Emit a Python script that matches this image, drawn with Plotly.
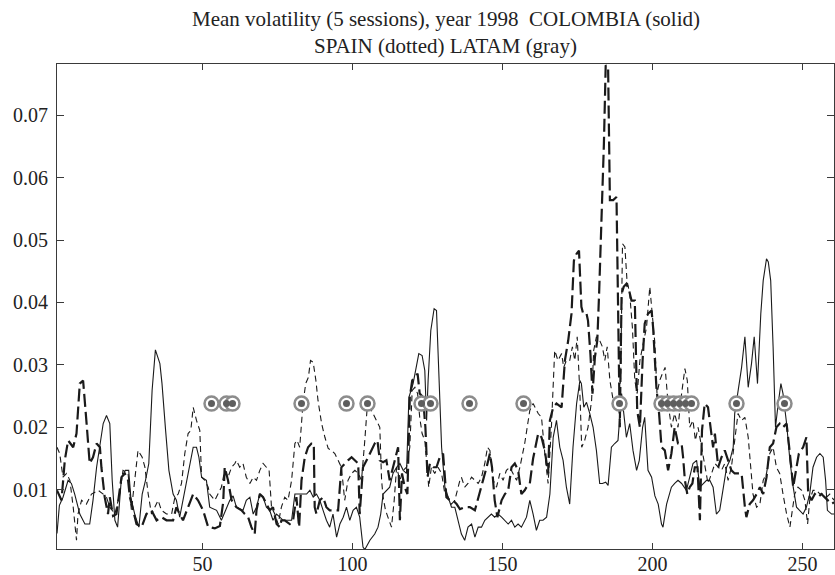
import plotly.graph_objects as go

# ---------------- data ----------------
colombia_x = [1.5, 2.3, 3.5, 5.2, 6.3, 7.4, 9.1, 10.8, 12.4, 13.5, 14.7, 15.8, 16.9, 18.0, 19.1, 19.9, 20.8, 21.7,
              23.0, 24.3, 25.4, 26.1, 27.4, 28.8, 29.9, 31.0, 32.1, 33.2, 34.3, 35.8, 36.5, 37.7, 38.8, 40.2, 41.3,
              42.4, 43.5, 44.7, 45.8, 46.9, 48.0, 48.8, 49.7, 51.3, 52.4, 54.7, 56.3, 58.0, 59.1, 60.2, 61.3, 63.5,
              64.6, 65.8, 66.9, 68.0, 69.1, 70.2, 71.3, 72.4, 73.5, 74.7, 75.8, 76.9, 78.5, 79.7, 80.8, 81.9, 83.0,
              84.7, 85.8, 86.9, 88.0, 89.1, 90.2, 91.3, 92.4, 93.5, 94.7, 95.8, 96.9, 98.0, 99.1, 100.2, 101.3,
              102.4, 103.5, 104.1, 105.8, 107.4, 108.5, 109.4, 110.2, 111.3, 112.4, 113.5, 114.7, 115.8, 116.9,
              118.0, 118.8, 120.2, 121.3, 122.1, 123.2, 124.1, 124.7, 125.2, 126.1, 127.2, 128.0, 128.8, 129.7,
              130.8, 131.9, 133.0, 134.1, 135.2, 136.3, 137.4, 138.5, 139.7, 140.8, 141.9, 143.0, 144.1, 145.2,
              146.3, 147.4, 148.5, 149.7, 150.8, 151.9, 153.0, 154.1, 155.2, 156.3, 158.0, 159.1, 160.2, 161.3,
              162.4, 163.5, 164.7, 165.8, 166.9, 168.0, 169.1, 170.2, 171.3, 172.4, 173.5, 174.7, 175.8, 176.3,
              177.1, 178.0, 179.1, 180.2, 181.3, 182.4, 183.3, 184.4, 185.2, 186.3, 187.4, 188.5, 189.7, 190.4,
              191.3, 192.4, 193.5, 194.7, 195.6, 196.7, 197.4, 198.5, 199.7, 200.8, 201.9, 203.0, 203.5, 204.7,
              206.3, 207.4, 208.5, 209.7, 211.3, 212.4, 213.5, 214.7, 215.8, 218.0, 219.1, 220.2, 221.3, 222.4,
              223.5, 224.7, 225.8, 226.9, 227.4, 228.5, 229.7, 230.8, 231.9, 233.0, 233.9, 235.0, 236.1, 236.9,
              238.0, 238.6, 239.4, 240.2, 241.0, 241.9, 242.8, 243.5, 244.7, 245.8, 246.9, 248.0, 249.1, 250.2,
              251.3, 252.4, 253.5, 254.7, 255.8, 256.9, 257.7, 258.3, 259.7, 260.5]
colombia_y = [0.0030, 0.0075, 0.0088, 0.0115, 0.0110, 0.0093, 0.0061, 0.0045, 0.0045, 0.0083, 0.0136, 0.0168,
              0.0206, 0.0219, 0.0206, 0.0115, 0.0051, 0.0040, 0.0120, 0.0131, 0.0131, 0.0088, 0.0061, 0.0040,
              0.0093, 0.0115, 0.0142, 0.0259, 0.0324, 0.0302, 0.0270, 0.0195, 0.0131, 0.0093, 0.0083, 0.0056,
              0.0083, 0.0115, 0.0136, 0.0168, 0.0168, 0.0152, 0.0120, 0.0115, 0.0072, 0.0067, 0.0051, 0.0072,
              0.0083, 0.0090, 0.0072, 0.0067, 0.0083, 0.0088, 0.0061, 0.0072, 0.0093, 0.0088, 0.0072, 0.0067,
              0.0051, 0.0061, 0.0056, 0.0051, 0.0051, 0.0051, 0.0093, 0.0093, 0.0093, 0.0093, 0.0099, 0.0088,
              0.0093, 0.0083, 0.0067, 0.0051, 0.0040, 0.0061, 0.0024, 0.0045, 0.0056, 0.0072, 0.0051, 0.0067,
              0.0072, 0.0056, 0.0008, 0.0004, 0.0019, 0.0029, 0.0040, 0.0061, 0.0093, 0.0099, 0.0104, 0.0126,
              0.0136, 0.0142, 0.0131, 0.0126, 0.0248, 0.0270, 0.0296, 0.0318, 0.0315, 0.0291, 0.0211, 0.0275,
              0.0355, 0.0390, 0.0387, 0.0275, 0.0168, 0.0104, 0.0088, 0.0072, 0.0072, 0.0051, 0.0029, 0.0019,
              0.0040, 0.0045, 0.0024, 0.0040, 0.0040, 0.0051, 0.0056, 0.0061, 0.0056, 0.0061, 0.0056, 0.0051,
              0.0045, 0.0051, 0.0040, 0.0045, 0.0040, 0.0056, 0.0083, 0.0061, 0.0035, 0.0051, 0.0051, 0.0056,
              0.0093, 0.0184, 0.0211, 0.0168, 0.0147, 0.0104, 0.0077, 0.0168, 0.0238, 0.0275, 0.0270, 0.0232,
              0.0240, 0.0222, 0.0200, 0.0163, 0.0110, 0.0110, 0.0112, 0.0107, 0.0168, 0.0174, 0.0179, 0.0254,
              0.0227, 0.0184, 0.0206, 0.0163, 0.0131, 0.0147, 0.0200, 0.0216, 0.0131, 0.0120, 0.0090, 0.0077,
              0.0045, 0.0040, 0.0077, 0.0104, 0.0110, 0.0115, 0.0110, 0.0099, 0.0120, 0.0142, 0.0147, 0.0104,
              0.0115, 0.0115, 0.0104, 0.0061, 0.0067, 0.0104, 0.0136, 0.0147, 0.0168, 0.0222, 0.0254, 0.0296,
              0.0345, 0.0264, 0.0302, 0.0345, 0.0270, 0.0382, 0.0435, 0.0470, 0.0465, 0.0435, 0.0329, 0.0200,
              0.0238, 0.0270, 0.0254, 0.0206, 0.0147, 0.0104, 0.0072, 0.0067, 0.0061, 0.0072, 0.0093, 0.0136,
              0.0152, 0.0158, 0.0152, 0.0115, 0.0067, 0.0061, 0.0061]

spain_x = [1.5, 2.4, 3.5, 4.7, 5.8, 6.9, 8.0, 8.5, 9.7, 11.3, 13.0, 15.2, 16.9, 18.0, 19.1, 20.8, 22.4, 23.5,
           25.2, 26.3, 27.4, 28.5, 29.9, 30.8, 31.9, 33.0, 34.1, 35.2, 36.3, 38.0, 39.7, 40.8, 41.9, 43.0, 44.1,
           45.2, 46.1, 46.9, 48.0, 49.1, 49.7, 50.8, 51.9, 52.4, 54.1, 55.2, 56.3, 57.4, 58.5, 59.7, 60.8, 61.3,
           62.4, 63.5, 64.6, 65.8, 66.9, 68.0, 69.1, 70.2, 71.3, 72.2, 73.0, 74.1, 75.2, 76.3, 77.4, 78.5, 79.7,
           80.8, 81.5, 82.4, 83.5, 84.4, 85.3, 86.0, 86.9, 87.8, 88.5, 89.7, 90.8, 91.9, 93.0, 94.1, 95.2, 96.3,
           97.4, 98.5, 99.7, 100.8, 101.9, 103.0, 104.1, 104.9, 105.8, 106.9, 108.0, 109.1, 109.7, 110.2, 111.0,
           112.1, 113.0, 113.9, 114.7, 115.8, 116.9, 118.0, 119.1, 119.9, 120.8, 121.7, 122.4, 123.2, 124.1,
           124.9, 125.4, 126.3, 127.4, 128.5, 129.7, 130.8, 131.9, 133.0, 134.1, 135.8, 136.3, 137.4, 138.5,
           139.7, 140.8, 141.9, 143.0, 144.1, 145.0, 145.8, 146.9, 148.0, 149.1, 150.2, 151.3, 152.4, 153.5,
           154.7, 155.8, 157.4, 159.1, 160.2, 161.9, 163.0, 164.1, 165.2, 166.3, 167.4, 168.5, 169.7, 170.4,
           171.3, 172.4, 173.3, 174.1, 174.9, 175.8, 176.4, 177.4, 178.5, 179.7, 180.4, 181.3, 182.4, 183.3,
           184.1, 184.9, 185.8, 186.9, 188.0, 188.8, 189.4, 190.0, 190.8, 191.5, 192.4, 193.3, 194.1, 194.9,
           195.8, 196.9, 198.0, 199.1, 200.0, 200.8, 201.5, 202.4, 203.3, 204.2, 205.2, 206.3, 207.4, 208.5,
           209.7, 210.8, 211.6, 212.4, 213.5, 214.3, 215.2, 216.3, 217.4, 218.5, 219.7, 220.8, 221.9, 223.0,
           224.1, 225.2, 226.3, 227.4, 228.5, 229.7, 230.8, 231.9, 232.8, 233.5, 234.7, 235.8, 236.9, 238.0,
           239.1, 240.2, 241.3, 242.4, 243.5, 244.7, 245.8, 246.5, 247.4, 248.5, 249.7, 250.8, 251.7, 252.4,
           253.5, 254.7, 255.8, 257.0, 258.0, 259.1, 260.5]
spain_y = [0.0168, 0.0158, 0.0120, 0.0126, 0.0115, 0.0072, 0.0019, 0.0061, 0.0083, 0.0077, 0.0093, 0.0099,
           0.0093, 0.0088, 0.0072, 0.0061, 0.0093, 0.0131, 0.0126, 0.0067, 0.0115, 0.0163, 0.0152, 0.0136,
           0.0093, 0.0061, 0.0072, 0.0083, 0.0067, 0.0061, 0.0061, 0.0088, 0.0093, 0.0110, 0.0158, 0.0190,
           0.0195, 0.0232, 0.0211, 0.0195, 0.0120, 0.0115, 0.0104, 0.0093, 0.0083, 0.0093, 0.0104, 0.0131,
           0.0120, 0.0136, 0.0142, 0.0147, 0.0136, 0.0142, 0.0120, 0.0110, 0.0120, 0.0115, 0.0131, 0.0142,
           0.0136, 0.0131, 0.0072, 0.0061, 0.0045, 0.0072, 0.0088, 0.0083, 0.0115, 0.0174, 0.0179, 0.0168,
           0.0238, 0.0270, 0.0280, 0.0307, 0.0304, 0.0275, 0.0243, 0.0206, 0.0184, 0.0166, 0.0163, 0.0158,
           0.0147, 0.0136, 0.0083, 0.0115, 0.0126, 0.0131, 0.0126, 0.0115, 0.0179, 0.0232, 0.0232, 0.0222,
           0.0211, 0.0200, 0.0115, 0.0088, 0.0067, 0.0051, 0.0040, 0.0083, 0.0136, 0.0115, 0.0131, 0.0136,
           0.0168, 0.0259, 0.0264, 0.0254, 0.0216, 0.0190, 0.0179, 0.0136, 0.0104, 0.0136, 0.0126, 0.0136,
           0.0126, 0.0093, 0.0088, 0.0077, 0.0083, 0.0115, 0.0120, 0.0104, 0.0110, 0.0120, 0.0115, 0.0110,
           0.0120, 0.0142, 0.0168, 0.0163, 0.0115, 0.0104, 0.0126, 0.0115, 0.0131, 0.0136, 0.0126, 0.0115,
           0.0136, 0.0174, 0.0227, 0.0238, 0.0222, 0.0216, 0.0158, 0.0110, 0.0200, 0.0323, 0.0307, 0.0318,
           0.0296, 0.0307, 0.0307, 0.0329, 0.0307, 0.0345, 0.0254, 0.0168, 0.0179, 0.0200, 0.0243, 0.0323,
           0.0345, 0.0339, 0.0329, 0.0307, 0.0329, 0.0275, 0.0243, 0.0232, 0.0243, 0.0280, 0.0494, 0.0489,
           0.0435, 0.0414, 0.0360, 0.0275, 0.0254, 0.0307, 0.0334, 0.0360, 0.0425, 0.0382, 0.0334, 0.0254,
           0.0275, 0.0286, 0.0296, 0.0238, 0.0200, 0.0222, 0.0200, 0.0254, 0.0294, 0.0275, 0.0200, 0.0211,
           0.0179, 0.0200, 0.0168, 0.0136, 0.0110, 0.0126, 0.0142, 0.0136, 0.0131, 0.0142, 0.0115, 0.0136,
           0.0184, 0.0222, 0.0211, 0.0216, 0.0184, 0.0136, 0.0093, 0.0072, 0.0077, 0.0115, 0.0126, 0.0158,
           0.0168, 0.0136, 0.0126, 0.0093, 0.0061, 0.0040, 0.0067, 0.0093, 0.0104, 0.0099, 0.0083, 0.0045,
           0.0083, 0.0099, 0.0099, 0.0093, 0.0093, 0.0088, 0.0093, 0.0083]

latam_x = [1.5, 3.0, 4.1, 5.2, 6.9, 8.0, 9.1, 10.2, 11.3, 12.4, 13.5, 14.7, 15.8, 16.3, 17.4, 18.5, 19.1, 20.2,
           21.3, 23.0, 24.1, 25.2, 25.8, 26.9, 28.0, 29.7, 31.3, 33.0, 34.7, 36.3, 38.0, 40.2, 41.3, 42.4, 43.5,
           45.2, 46.9, 48.5, 50.2, 51.9, 52.4, 54.1, 55.8, 56.9, 57.4, 58.5, 59.7, 61.3, 63.0, 64.1, 65.2, 66.3,
           67.4, 68.0, 69.1, 70.2, 71.3, 72.4, 73.5, 74.7, 75.8, 76.3, 77.4, 79.1, 80.2, 81.3, 82.2, 83.0, 84.1,
           85.2, 86.3, 87.1, 87.4, 88.0, 89.1, 90.2, 91.3, 92.4, 94.1, 95.2, 96.3, 97.4, 98.5, 99.7, 100.8, 101.9,
           102.4, 103.5, 104.7, 105.8, 107.4, 108.3, 109.1, 110.2, 111.3, 112.4, 113.5, 114.3, 115.2, 115.8,
           116.5, 117.4, 118.3, 119.1, 119.9, 120.8, 121.7, 122.4, 123.5, 124.3, 125.0, 125.8, 126.9, 128.0,
           129.1, 130.2, 131.3, 132.4, 133.5, 134.7, 135.8, 137.4, 139.1, 140.8, 142.4, 143.5, 144.7, 145.8,
           146.5, 147.4, 148.3, 149.7, 150.8, 151.9, 153.0, 154.1, 155.2, 156.3, 157.4, 158.0, 159.1, 160.2,
           161.9, 163.0, 164.1, 165.2, 165.8, 166.9, 168.0, 169.7, 170.8, 171.9, 173.0, 173.8, 174.7, 175.5,
           176.3, 176.9, 178.0, 178.5, 179.3, 180.0, 180.8, 181.6, 182.2, 183.0, 183.8, 184.4, 185.2, 185.8,
           186.9, 188.0, 188.5, 189.1, 189.7, 190.4, 191.3, 192.2, 193.0, 194.1, 194.9, 195.8, 196.7, 197.4,
           198.5, 199.7, 200.2, 201.3, 202.2, 203.0, 204.1, 205.2, 206.3, 207.4, 208.5, 209.7, 210.2, 210.8,
           211.6, 212.4, 213.3, 214.1, 215.0, 215.8, 216.5, 217.4, 218.5, 219.4, 220.2, 220.8, 221.3, 221.9,
           223.0, 224.1, 225.2, 226.3, 227.4, 228.5, 229.7, 230.8, 231.3, 232.4, 233.5, 234.7, 235.8, 236.9,
           238.0, 239.1, 240.2, 241.3, 242.4, 243.5, 244.7, 245.8, 246.9, 248.0, 248.8, 250.2, 251.3, 251.9,
           253.0, 254.1, 255.2, 256.3, 257.4, 258.5, 259.7, 260.5]
latam_y = [0.0099, 0.0083, 0.0147, 0.0179, 0.0168, 0.0190, 0.0270, 0.0275, 0.0210, 0.0142, 0.0152, 0.0174,
           0.0168, 0.0136, 0.0088, 0.0061, 0.0088, 0.0058, 0.0061, 0.0120, 0.0126, 0.0115, 0.0088, 0.0067,
           0.0045, 0.0040, 0.0061, 0.0067, 0.0051, 0.0056, 0.0051, 0.0051, 0.0072, 0.0061, 0.0051, 0.0072,
           0.0093, 0.0083, 0.0067, 0.0040, 0.0040, 0.0038, 0.0042, 0.0080, 0.0136, 0.0115, 0.0083, 0.0072,
           0.0067, 0.0061, 0.0056, 0.0040, 0.0029, 0.0067, 0.0093, 0.0088, 0.0077, 0.0067, 0.0072, 0.0045,
           0.0040, 0.0051, 0.0051, 0.0045, 0.0051, 0.0088, 0.0040, 0.0115, 0.0152, 0.0168, 0.0174, 0.0174,
           0.0072, 0.0061, 0.0083, 0.0088, 0.0072, 0.0067, 0.0067, 0.0067, 0.0136, 0.0142, 0.0147, 0.0152,
           0.0147, 0.0142, 0.0061, 0.0136, 0.0147, 0.0158, 0.0174, 0.0179, 0.0147, 0.0144, 0.0147, 0.0115,
           0.0136, 0.0147, 0.0168, 0.0051, 0.0126, 0.0104, 0.0093, 0.0248, 0.0275, 0.0280, 0.0286, 0.0254,
           0.0248, 0.0200, 0.0120, 0.0142, 0.0136, 0.0136, 0.0152, 0.0158, 0.0088, 0.0083, 0.0083, 0.0077,
           0.0069, 0.0072, 0.0072, 0.0067, 0.0093, 0.0115, 0.0136, 0.0158, 0.0136, 0.0083, 0.0056, 0.0083,
           0.0093, 0.0099, 0.0136, 0.0142, 0.0131, 0.0093, 0.0099, 0.0104, 0.0110, 0.0150, 0.0190, 0.0184,
           0.0163, 0.0126, 0.0211, 0.0232, 0.0238, 0.0232, 0.0307, 0.0339, 0.0382, 0.0467, 0.0478, 0.0483,
           0.0393, 0.0382, 0.0382, 0.0371, 0.0318, 0.0254, 0.0312, 0.0339, 0.0414, 0.0521, 0.0654, 0.0780,
           0.0777, 0.0564, 0.0564, 0.0569, 0.0360, 0.0200, 0.0414, 0.0425, 0.0430, 0.0419, 0.0403, 0.0403,
           0.0227, 0.0200, 0.0307, 0.0366, 0.0382, 0.0387, 0.0360, 0.0264, 0.0222, 0.0168, 0.0163, 0.0131,
           0.0158, 0.0200, 0.0174, 0.0174, 0.0152, 0.0115, 0.0093, 0.0104, 0.0110, 0.0136, 0.0136, 0.0051,
           0.0195, 0.0238, 0.0232, 0.0200, 0.0168, 0.0190, 0.0168, 0.0136, 0.0152, 0.0163, 0.0147, 0.0131,
           0.0126, 0.0126, 0.0126, 0.0072, 0.0056, 0.0077, 0.0083, 0.0093, 0.0104, 0.0093, 0.0120, 0.0168,
           0.0174, 0.0200, 0.0206, 0.0200, 0.0206, 0.0158, 0.0104, 0.0136, 0.0158, 0.0168, 0.0184, 0.0093,
           0.0083, 0.0093, 0.0088, 0.0093, 0.0088, 0.0083, 0.0077, 0.0080]

marker_x = [53, 58, 60, 83, 98, 105, 123, 126, 139, 157, 189, 203, 205, 207, 209, 211, 213, 228, 244]
marker_y = [0.0238] * len(marker_x)

x_ticks = [50, 100, 150, 200, 250]
y_ticks = [0.01, 0.02, 0.03, 0.04, 0.05, 0.06, 0.07]
y_tick_text = ["0.01", "0.02", "0.03", "0.04", "0.05", "0.06", "0.07"]
title_lines = ["Mean volatility (5 sessions), year 1998  COLOMBIA (solid)",
               "SPAIN (dotted) LATAM (gray)"]

# ---------------- figure ----------------
SERIF = "Liberation Serif, Times New Roman, serif"
fig = go.Figure()

fig.add_trace(go.Scatter(x=colombia_x, y=colombia_y, mode="lines",
                         line=dict(color="#1a1a1a", width=1.1), name="COLOMBIA"))
fig.add_trace(go.Scatter(x=spain_x, y=spain_y, mode="lines",
                         line=dict(color="#1a1a1a", width=1.1, dash="6px,4px"), name="SPAIN"))
fig.add_trace(go.Scatter(x=latam_x, y=latam_y, mode="lines",
                         line=dict(color="#1a1a1a", width=2.2, dash="13px,5px"), name="LATAM"))
fig.add_trace(go.Scatter(x=marker_x, y=marker_y, mode="markers",
                         marker=dict(symbol="circle", size=14, color="white",
                                     line=dict(color="#8c8c8c", width=2.5)), name="ring"))
fig.add_trace(go.Scatter(x=marker_x, y=marker_y, mode="markers",
                         marker=dict(symbol="circle", size=7, color="#5e5e5e", line=dict(width=0)),
                         name="dot"))

axis_common = dict(showgrid=False, zeroline=False, showline=True, mirror="ticks",
                   linecolor="#3a3a3a", linewidth=1, ticks="inside", tickcolor="#3a3a3a",
                   tickwidth=1, automargin=False,
                   tickfont=dict(family=SERIF, size=20, color="#222222"))

fig.update_layout(
    width=835, height=575,
    margin=dict(l=57, r=1, t=64, b=26, autoexpand=False),
    paper_bgcolor="white", plot_bgcolor="white",
    showlegend=False,
    hovermode=False,
    xaxis=dict(range=[1.5, 260.5], tickvals=x_ticks, ticklen=6, ticklabelstandoff=-3,
               **axis_common),
    yaxis=dict(range=[0.0005, 0.0782], tickvals=y_ticks, ticktext=y_tick_text, ticklen=7,
               ticklabelstandoff=4, **axis_common),
    annotations=[
        dict(text=title_lines[0], x=0.5, y=1.092, xref="paper", yref="paper",
             xanchor="center", yanchor="middle", showarrow=False,
             font=dict(family=SERIF, size=21, color="#222222")),
        dict(text=title_lines[1], x=0.5, y=1.038, xref="paper", yref="paper",
             xanchor="center", yanchor="middle", showarrow=False,
             font=dict(family=SERIF, size=21, color="#222222")),
    ],
)

fig.write_html("out.html", config={"displayModeBar": False},
               post_script="document.body.style.margin='0px';document.body.style.padding='0px';")
